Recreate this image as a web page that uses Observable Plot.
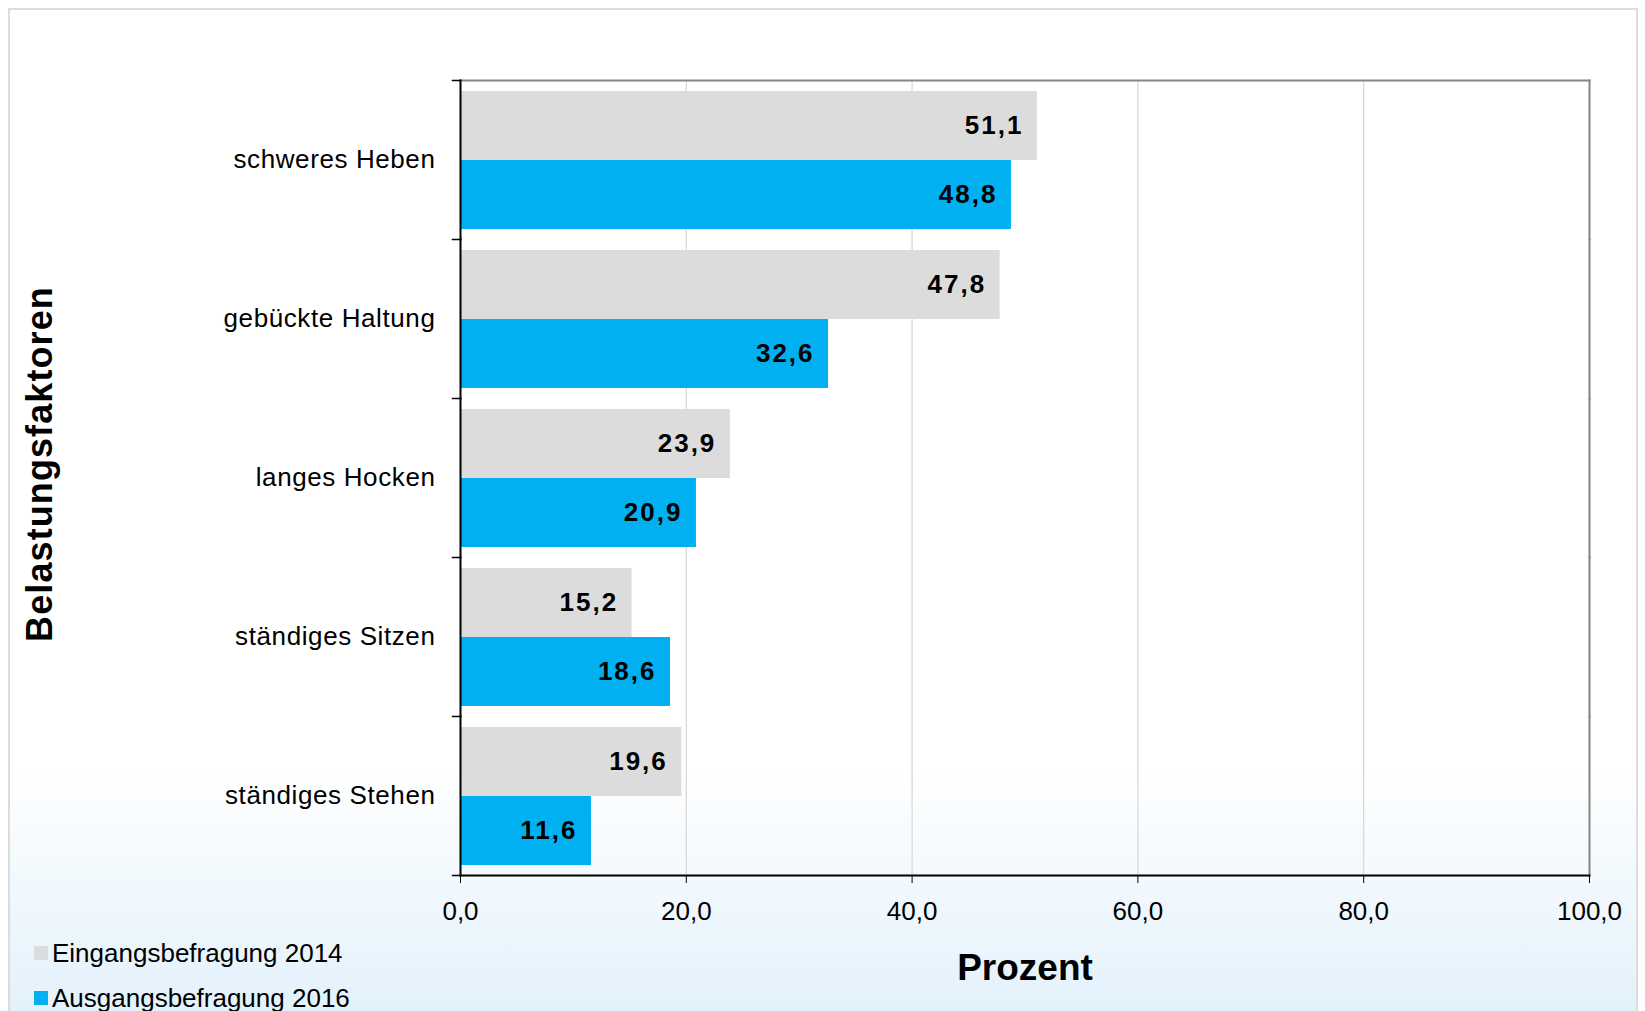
<!DOCTYPE html>
<html><head><meta charset="utf-8">
<script src="https://cdn.jsdelivr.net/npm/d3@7"></script>
<script src="https://cdn.jsdelivr.net/npm/@observablehq/plot@0.6"></script>
<style>
html,body{margin:0;padding:0;width:1645px;height:1011px;overflow:hidden;background:#fff;font-family:"Liberation Sans",Arial,sans-serif;}
#card{position:absolute;left:8px;top:8px;width:1630px;height:1030px;border:2px solid #dcdcdc;box-sizing:border-box;background:linear-gradient(to bottom,#ffffff 0%,#ffffff 74%,#e0f0fb 100%);}
#chart{position:absolute;left:0;top:0;}
#legend{position:absolute;left:34px;top:938px;font-size:26px;color:#000;}
.item{display:flex;align-items:center;height:30px;margin-bottom:15px;white-space:nowrap;}
.sw{width:14px;height:14px;margin-right:4px;flex:none;}
</style></head><body>
<div id="card"></div><div id="chart"></div><div id="legend"></div>
<script>
const categories = ["schweres Heben", "gebückte Haltung", "langes Hocken", "ständiges Sitzen", "ständiges Stehen"];
const series = ["Eingangsbefragung 2014", "Ausgangsbefragung 2016"];
const values2014 = [51.1, 47.8, 23.9, 15.2, 19.6];
const values2016 = [48.8, 32.6, 20.9, 18.6, 11.6];
const xTicks = [0, 20, 40, 60, 80, 100];
const colors = ["#dcdcdc", "#00b0f0"];
const yTitle = "Belastungsfaktoren";
const xTitle = "Prozent";

const fmt = d => d.toFixed(1).replace(".", ",");
const data = categories.flatMap((c, i) => [
  {category: c, series: series[0], value: values2014[i]},
  {category: c, series: series[1], value: values2016[i]}
]);

const W = 1645, H = 1011, ML = 460, MR = 56, MT = 78, MB = 135;
const plotW = W - ML - MR;

const chart = Plot.plot({
  width: W, height: H,
  marginLeft: ML, marginRight: MR, marginTop: MT, marginBottom: MB,
  style: {background: "transparent", fontFamily: "'Liberation Sans', Arial, sans-serif", color: "#000"},
  x: {domain: [0, 100]},
  fy: {domain: categories, padding: 0},
  y: {domain: series, paddingInner: 0, paddingOuter: 0.14, axis: null},
  color: {domain: series, range: colors},
  marks: [
    Plot.ruleX(xTicks.slice(1, -1), {stroke: "#d9d9d9", strokeWidth: 1.3}),
    Plot.barX(data, {fy: "category", y: "series", x: "value", fill: "series"}),
    Plot.text(data, {fy: "category", y: "series", x: "value", text: d => fmt(d.value), textAnchor: "end", dx: -14, fontWeight: "bold", fontSize: 26, fill: "#000"}),
    Plot.frame({anchor: "top", stroke: "#858585", strokeWidth: 2, facetAnchor: "top"}),
    Plot.frame({anchor: "right", stroke: "#858585", strokeWidth: 2}),
    Plot.frame({anchor: "left", stroke: "#000", strokeWidth: 2}),
    Plot.frame({anchor: "bottom", stroke: "#000", strokeWidth: 2, facetAnchor: "bottom"}),
    Plot.frame({anchor: "top", stroke: "#000", strokeWidth: 1.5, insetLeft: -8, insetRight: plotW}),
    Plot.frame({anchor: "bottom", stroke: "#000", strokeWidth: 1.5, insetLeft: -8, insetRight: plotW, facetAnchor: "bottom"}),
    Plot.axisX({ticks: xTicks, tickFormat: fmt, tickSize: 8, tickPadding: 18, fontSize: 26, label: null, stroke: "#000"}),
    Plot.axisX({ticks: [], label: xTitle, labelAnchor: "center", labelArrow: "none", labelOffset: 104, fontSize: 37, fontWeight: "bold"}),
    Plot.axisFy({anchor: "left", tickSize: 0, tickPadding: 25, fontSize: 26, label: null}),
    Plot.axisFy({anchor: "left", ticks: [], label: yTitle, labelAnchor: "center", labelArrow: "none", labelOffset: 434, fontSize: 36, fontWeight: "bold"})
  ]
});
document.getElementById("chart").appendChild(chart);
d3.select(chart).selectAll("g[aria-label='text'] text").style("letter-spacing", "2px");
d3.select(chart).selectAll("g[aria-label='fy-axis tick label'] text").style("letter-spacing", "0.6px");
const yl = d3.select(chart).select("g[aria-label='fy-axis label']");
yl.selectAll("text").style("letter-spacing", "1.1px");
yl.attr("transform", ((yl.attr("transform") || "") + " translate(0,-14)").trim());

const legend = document.getElementById("legend");
series.forEach((s, i) => {
  const item = document.createElement("div");
  item.className = "item";
  const sw = document.createElement("span");
  sw.className = "sw";
  sw.style.background = colors[i];
  const t = document.createElement("span");
  t.textContent = s;
  item.appendChild(sw); item.appendChild(t);
  legend.appendChild(item);
});
</script></body></html>
